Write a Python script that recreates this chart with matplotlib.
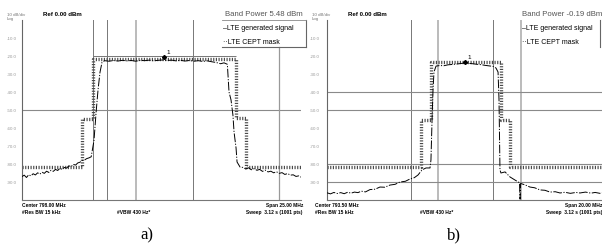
import matplotlib
matplotlib.use("Agg")
import matplotlib.pyplot as plt
from matplotlib.lines import Line2D

W, H = 602, 244

# ---- panel a): center 798.00 MHz, span 25 MHz ----
a_freq_lim = [785.5, 810.5]
a_signal_f = [785.5, 785.7, 785.9, 786.1, 786.3, 786.5, 786.7, 786.9, 787.1, 787.3,
              787.5, 787.7, 787.9, 788.1, 788.3, 788.5, 788.7, 788.9, 789.1, 789.3,
              789.5, 789.7, 789.9, 790.1, 790.3, 790.5, 790.7, 790.9, 791.1, 791.3,
              791.5, 791.7, 791.95, 792.13, 792.31, 792.49, 792.67,
              792.9, 793.3, 793.7, 794.1, 794.5, 794.9, 795.3, 795.7, 796.1, 796.5,
              796.9, 797.3, 797.7, 798.1, 798.5, 798.9, 799.3, 799.7, 800.1, 800.5,
              800.9, 801.3, 801.7, 802.1, 802.5, 802.9, 803.3, 803.6, 803.9, 804.05,
              804.23, 804.4, 804.5, 804.68, 804.77, 805.04,
              805.3, 805.55, 805.8, 806.05, 806.3, 806.55, 806.8, 807.05, 807.3, 807.55,
              807.8, 808.05, 808.3, 808.55, 808.8, 809.05, 809.3, 809.55, 809.8, 810.05,
              810.3, 810.5]
a_signal_db = [-87.0, -86.2, -87.5, -86.0, -86.6, -85.4, -86.1, -84.9, -85.6, -84.6,
               -85.2, -84.0, -84.7, -83.5, -84.1, -83.0, -83.6, -82.4, -83.0, -81.9,
               -82.3, -81.0, -81.5, -80.2, -80.6, -79.4, -79.0, -78.0, -77.8, -77.0,
               -76.6, -76.0, -67.0, -52.0, -39.0, -29.0, -23.5,
               -22.6, -22.9, -22.5, -22.8, -22.4, -22.7, -22.5, -22.9, -22.4, -22.6,
               -22.3, -22.7, -22.4, -22.2, -22.5, -22.3, -22.7, -22.4, -22.8, -22.5,
               -22.9, -22.6, -23.0, -22.7, -23.2, -23.6, -24.3, -23.8, -24.6, -40.0,
               -44.4, -52.8, -62.2, -71.1, -78.9, -81.7,
               -81.9, -82.8, -82.1, -83.2, -82.6, -83.5, -83.0, -84.1, -83.4, -84.4,
               -84.0, -84.9, -84.3, -85.2, -84.8, -85.8, -85.3, -86.2, -86.0, -86.9,
               -86.6, -87.3]
a_mask_f = [785.5, 790.9, 790.9, 791.9, 791.9, 804.7, 804.7, 805.6, 805.6, 810.5]
a_mask_db = [-81.7, -81.7, -55.0, -55.0, -21.9, -21.9, -54.5, -54.5, -81.7, -81.7]
a_marker_f = [798.23]
a_marker_db = [-20.6]
a_band_power = "Band Power 5.48 dBm"
a_center = "Center 798.00 MHz"
a_span = "Span 25.00 MHz"

# ---- panel b): center 793.50 MHz, span 20 MHz ----
b_freq_lim = [783.5, 803.5]
b_signal_f = [783.5, 783.75, 784.0, 784.25, 784.5, 784.75, 785.0, 785.25, 785.5, 785.75,
              786.0, 786.3, 786.63, 787.0, 787.35, 787.7, 788.08, 788.45, 788.81, 789.2,
              789.54, 789.85, 790.12, 790.41, 790.7, 790.99, 791.06, 791.14, 791.21, 791.28,
              791.43, 791.7, 792.0, 792.3, 792.6, 792.9, 793.2, 793.5, 793.8, 794.1,
              794.4, 794.7, 795.0, 795.3, 795.6, 795.79, 795.94, 796.01, 796.05, 796.08,
              796.15, 796.45, 796.81, 797.17, 797.5, 797.54, 797.58, 797.9, 798.26, 798.6,
              798.99, 799.35, 799.72, 800.1, 800.45, 800.8, 801.2, 801.6, 801.9, 802.3,
              802.7, 803.0, 803.35, 803.5]
b_signal_db = [-96.0, -96.6, -95.8, -96.4, -95.9, -96.5, -95.7, -96.2, -95.6, -95.9,
               -95.1, -95.5, -94.2, -94.0, -92.8, -92.9, -91.7, -91.3, -90.0, -89.6,
               -88.3, -87.6, -86.1, -83.3, -82.2, -82.2, -77.8, -55.6, -38.9, -28.9,
               -25.6, -25.3, -25.4, -24.9, -24.7, -24.5, -24.2, -23.9, -24.1, -24.3,
               -24.6, -24.8, -25.2, -25.5, -25.8, -26.7, -28.9, -44.4, -66.7, -83.3,
               -85.0, -84.4, -87.2, -88.9, -90.4, -99.5, -90.8, -91.6, -92.8, -93.2,
               -94.4, -94.6, -95.6, -95.4, -96.1, -95.7, -96.3, -95.8, -96.1, -95.6,
               -96.2, -95.8, -96.3, -96.0]
b_mask_f = [783.5, 790.34, 790.34, 791.06, 791.06, 796.15, 796.15, 796.81, 796.81, 803.5]
b_mask_db = [-81.7, -81.7, -55.6, -55.6, -23.1, -23.1, -55.6, -55.6, -81.7, -81.7]
b_marker_f = [793.54]
b_marker_db = [-23.3]
b_band_power = "Band Power -0.19 dBm"
b_center = "Center 793.50 MHz"
b_span = "Span 20.00 MHz"

y_ticks = [-10, -20, -30, -40, -50, -60, -70, -80, -90]
y_tick_labels = ["-10.0", "-20.0", "-30.0", "-40.0", "-50.0",
                 "-60.0", "-70.0", "-80.0", "-90.0"]

FONT = ["Liberation Sans", "DejaVu Sans"]
plt.rcParams["font.family"] = FONT


def fx(x):
    return x / W


def fy(y):
    return 1 - y / H


def px_to_f(x, left, right, lim):
    return lim[0] + (x - left) / (right - left) * (lim[1] - lim[0])


def fig_line(fig, xs, ys, **kw):
    fig.add_artist(Line2D([fx(v) for v in xs], [fy(v) for v in ys],
                          transform=fig.transFigure, **kw))


def draw_panel(fig, left, right, lim, sig_f, sig_db, mask_f, mask_db, mk_f, mk_db,
               vgrid_dark, vgrid_light, hgrid, label_pad):
    ax = fig.add_axes([fx(left), fy(200), fx(right - left), 180 / H])
    ax.set_xlim(lim)
    ax.set_ylim(-100, 0)
    ax.set_facecolor("white")
    for s in ("top", "right"):
        ax.spines[s].set_visible(False)
    ax.spines["left"].set_color("#666666")
    ax.spines["bottom"].set_color("#777777")
    ax.spines["left"].set_linewidth(0.8)
    ax.spines["bottom"].set_linewidth(0.8)
    ax.set_xticks([])
    ax.set_yticks(y_ticks)
    ax.set_yticklabels(y_tick_labels)
    ax.tick_params(axis="y", length=0, pad=label_pad, labelsize=3.2, labelcolor="#999999")

    for xp in vgrid_dark:
        ax.axvline(px_to_f(xp, left, right, lim), color="#777777", lw=0.7, zorder=1)
    for xp in vgrid_light:
        ax.axvline(px_to_f(xp, left, right, lim), color="#bbbbbb", lw=1.4, zorder=1)
    for yv in hgrid:
        ax.axhline(yv, color="#8a8a8a", lw=0.8, zorder=1)

    ax.plot(mask_f, mask_db, color="#4a4a4a", lw=2.4, ls=(0, (0.35, 0.45)),
            dash_capstyle="butt", zorder=2)
    ax.plot(sig_f, sig_db, color="black", lw=0.7, ls=(0, (9, 1.6, 1.2, 1.6)), zorder=3)
    ax.plot(mk_f, mk_db, marker="D", ms=2.0, color="black", ls="none", zorder=4)
    ax.annotate("1", (mk_f[0], mk_db[0]), xytext=(2, 2), textcoords="offset points",
                fontsize=4.5, color="black")
    return ax


fig = plt.figure(figsize=(W / 100, H / 100), dpi=100)

# panel a)
ax_a = draw_panel(fig, 22, 301, a_freq_lim, a_signal_f, a_signal_db, a_mask_f, a_mask_db,
                  a_marker_f, a_marker_db, vgrid_dark=[93, 107, 193], vgrid_light=[136],
                  hgrid=[-50], label_pad=4)
ax_a.axvline(px_to_f(279, 22, 301, a_freq_lim), ymax=(200 - 47) / 180,
             color="#999999", lw=0.9, zorder=1)
ax_a.hlines(-20, 791.9, 804.7, color="#777777", lw=0.7, zorder=1)

# panel b)
ax_b = draw_panel(fig, 327, 602, b_freq_lim, b_signal_f, b_signal_db, b_mask_f, b_mask_db,
                  b_marker_f, b_marker_db, vgrid_dark=[411, 493], vgrid_light=[438, 521],
                  hgrid=[-40, -50, -80, -90], label_pad=5)

# header texts
for x0, bp, x_bp in ((5, a_band_power, 303), (310, b_band_power, 602)):
    fig.text(fx(x0 + 2), fy(15.5), "10 dB/div", fontsize=3.2, color="#777777")
    fig.text(fx(x0 + 2), fy(20), "Log", fontsize=3.2, color="#777777")
    fig.text(fx(x0 + 38), fy(16.5), "Ref 0.00 dBm", fontsize=4.4, weight="bold")
    fig.text(fx(x_bp), fy(16.5), bp, fontsize=5.6, color="#555555", ha="right")

# legends
for x0, x1 in ((222, 306), (521, 600)):
    fig.text(fx(x0 + 1), fy(29.5), "\u2013LTE generated signal", fontsize=5.0)
    fig.text(fx(x0 + 1), fy(44), "\u00b7\u00b7LTE CEPT mask", fontsize=5.0)
    fig_line(fig, [x1, x1], [20, 47], color="#666666", lw=0.8)
fig_line(fig, [222, 306], [47, 47], color="#666666", lw=0.8)
fig_line(fig, [222, 306], [20, 20], color="#888888", lw=0.6)

# footer texts
for x0, center, span, x_right, x_vbw in ((22, a_center, a_span, 303, 117),
                                         (315, b_center, b_span, 602, 420)):
    fig.text(fx(x0), fy(207), center, fontsize=3.5, weight="bold")
    fig.text(fx(x0), fy(214), "#Res BW 15 kHz", fontsize=3.5, weight="bold")
    fig.text(fx(x_vbw), fy(214), "#VBW 430 Hz*", fontsize=3.5, weight="bold")
    fig.text(fx(x_right), fy(207), span, fontsize=3.5, weight="bold", ha="right")
    fig.text(fx(x_right), fy(214), "Sweep  3.12 s (1001 pts)", fontsize=3.5,
             weight="bold", ha="right")

fig.text(fx(147), fy(235), "a)", fontsize=12, family=["Liberation Serif", "DejaVu Serif"],
         ha="center", va="center")
fig.text(fx(454), fy(235), "b)", fontsize=12, family=["Liberation Serif", "DejaVu Serif"],
         ha="center", va="center")

fig.savefig("out.png", dpi=100)
